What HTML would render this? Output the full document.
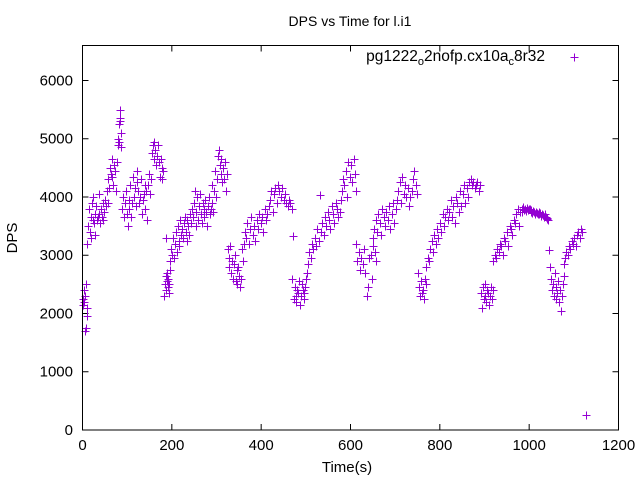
<!DOCTYPE html>
<html><head><meta charset="utf-8"><style>
html,body{margin:0;padding:0;background:#fff;}
svg{display:block;font-family:"Liberation Sans",sans-serif;}
</style></head><body>
<svg id="chart" width="640" height="480" viewBox="0 0 640 480" xmlns="http://www.w3.org/2000/svg">
<rect width="640" height="480" fill="#fff"/>
<text x="350" y="26" font-size="14" text-anchor="middle">DPS vs Time for l.i1</text>
<text x="17" y="238" font-size="15" text-anchor="middle" transform="rotate(-90 17 238)">DPS</text>
<text x="347" y="472" font-size="15" text-anchor="middle">Time(s)</text>
<g id="ticks"></g>
<g id="points"></g>
<rect x="82.5" y="45.5" width="536" height="384.5" fill="none" stroke="#000" stroke-width="1"/>
<g>
<text x="545" y="61" font-size="15.5" text-anchor="end">pg1222<tspan font-size="11" dy="4">o</tspan><tspan dy="-4">2nofp.cx10a</tspan><tspan font-size="11" dy="4">c</tspan><tspan dy="-4">8r32</tspan></text>
<path d="M570.5 57.5h8M574.5 53.5v8" stroke="#9400d3" stroke-width="1"/>
</g>
</svg>
<script>
const xTicks = [0,200,400,600,800,1000,1200];
const yTicks = [0,1000,2000,3000,4000,5000,6000];
const times = [1,2,3,4,5,6,7,8,9,10,
11,13,14,16,18,19,21,23,24,26,28,29,31,33,35,36,38,40,42,43,45,47,49,50,52,54,56,
57,59,61,63,65,67,69,71,73,75,77,79,80,81,82,83,84,85,86,87,
89,91,93,95,97,99,101,103,105,107,109,111,113,115,117,119,121,123,125,127,129,131,133,135,137,139,141,143,145,147,149,151,153,
155,157,159,161,163,165,167,169,171,173,175,177,179,181,
183,185,186,187,188,189,190,191,192,193,194,196,
197,199,201,203,205,207,209,211,213,215,217,219,221,223,225,227,229,231,233,235,237,239,241,243,
245,247,249,251,253,255,257,259,261,263,265,267,269,271,273,275,277,279,281,283,285,287,289,291,293,295,297,299,301,303,
305,307,309,311,313,315,317,319,321,323,
325,327,329,331,333,335,337,339,341,343,345,347,349,351,353,355,357,359,361,
363,366,369,372,375,378,381,384,387,390,393,396,399,402,405,408,411,414,417,420,423,426,429,432,435,438,441,444,447,450,453,456,459,462,465,468,
471,
470,473,475,477,479,481,483,485,487,489,491,493,495,497,499,501,503,
505,508,511,514,517,520,523,526,529,531,534,537,540,543,546,549,552,555,558,561,564,567,570,573,576,579,
580,583,586,589,592,595,598,601,604,607,610,613,
612,615,618,621,624,627,630,633,636,639,642,645,648,651,654,657,
650,653,656,659,662,665,668,671,674,677,680,683,686,689,692,695,698,701,
704,707,710,713,716,719,722,725,728,731,734,737,740,743,746,749,
752,754,756,758,760,762,764,766,768,
770,773,776,779,782,785,788,791,794,797,800,803,806,809,812,815,818,821,824,827,830,833,836,839,842,845,848,851,854,857,860,863,866,869,872,875,878,881,884,887,890,
892,894,896,898,900,902,904,906,908,910,912,914,916,918,
920,923,926,929,932,935,938,941,944,947,950,953,956,959,962,965,968,971,974,977,980,
983,985,987,989,991,993,995,997,999,1001,1003,1005,1007,1009,1011,1013,1015,1017,1019,1021,1023,1025,1027,1029,1031,1033,1035,1037,1039,1041,1043,
1045,
1047,1049,1051,1053,1055,1057,1059,1061,1063,1065,1067,1069,1071,1073,1075,1077,1079,
1080,1083,1086,1089,1092,1095,1098,1101,1104,1107,1110,1113,1116,1119,
1128];
const dps = [2250,2150,2400,2200,1700,2300,1750,2500,1950,2100,
3200,3500,3800,3400,3650,3300,3900,3600,4000,3550,3700,3350,3850,3600,3650,4050,3700,3550,3800,3650,3900,3600,3750,3950,3850,4100,3900,
4300,4150,4500,4400,4650,4350,4200,4550,4450,4100,4600,4900,5000,4950,5250,5300,5350,5500,5100,4850,
3800,4000,3650,3900,4100,3700,3500,3950,3800,4200,3650,3900,4350,4000,4150,3850,4450,4250,4100,3900,4000,4300,3700,3950,4050,4200,3800,4100,3600,4200,4400,4050,4300,
4750,4900,4650,4950,4800,4550,4700,4900,4600,4350,4650,4500,4300,4450,
2300,2500,3300,2650,2400,2550,2700,2450,2600,2350,2500,2750,
2900,3100,3000,3300,2950,3200,3400,3050,3500,3250,3150,3600,3350,3450,3300,3550,3650,3400,3250,3600,3500,3350,3700,3550,
3800,3650,3900,4100,3500,3750,4000,3600,3850,4050,3700,3550,3900,3800,3650,3950,3750,3500,3850,4000,3700,3800,4200,3900,3750,4100,4450,4000,4300,4700,
4800,4550,4400,4650,4250,4500,4300,4600,4100,4400,
3100,2950,2800,3150,2700,2900,2600,2850,3000,2550,2750,2500,2800,2650,2450,2600,3100,2900,3200,
3400,3300,3550,3200,3450,3650,3350,3500,3250,3600,3450,3700,3550,3650,3400,3800,3600,3700,3850,3950,4100,3750,4050,4150,3900,4200,4100,4000,4150,3950,4050,3900,3850,3950,3900,3800,
3330,
2600,2250,2450,2300,2200,2400,2350,2550,2150,2300,2500,2400,2250,2350,2450,2600,2700,
2850,3050,2950,3200,3100,3300,3150,3450,3250,4030,3400,3550,3350,3650,3500,3750,3600,3450,3850,3700,3550,3900,3800,3650,3750,3950,
4100,4300,4200,4450,4000,4600,4350,4550,4250,4650,4400,4100,
3200,2900,3050,2750,2950,2850,3100,2700,2300,2450,2950,3000,2600,3150,3050,2900,
3300,3450,3600,3400,3700,3550,3350,3800,3650,3500,3750,3600,3850,3450,3700,3900,3550,3800,
3950,4100,4250,3900,4350,4050,4200,4000,4150,3850,4000,4100,4300,4450,4200,4050,
2700,2450,2300,2550,2350,2400,2250,2600,2500,
2800,2950,2900,3100,3250,3050,3350,3200,3450,3300,3550,3400,3700,3500,3650,3800,3600,3750,3950,3650,3850,3550,4000,3900,3750,4100,3850,4050,4200,3900,4150,4000,4250,4300,4200,4250,4150,4200,4250,4100,4200,
2350,2100,2450,2250,2300,2500,2200,2400,2350,2150,2300,2450,2250,2400,
2900,3000,2950,3100,3050,3200,3150,3000,3300,3250,3400,3150,3500,3450,3350,3600,3550,3700,3800,3500,3750,
3800,3750,3820,3780,3800,3760,3810,3770,3790,3800,3750,3780,3720,3760,3740,3700,3750,3730,3710,3740,3700,3720,3680,3700,3690,3660,3700,3650,3620,3640,3600,
3090,
2800,2600,2400,2500,2300,2700,2250,2450,2350,2550,2200,2400,2050,2300,2500,2650,2850,
2950,3050,3000,3150,3100,3250,3200,3300,3150,3350,3400,3300,3450,3400,
250];

const NS = "http://www.w3.org/2000/svg";
const X0 = 82.5, X1 = 618.5, Y0 = 430, Y1 = 45.5;
const XMAX = 1200, YMAX = 6600;
function xs(t){ return X0 + (t / XMAX) * (X1 - X0); }
function ys(v){ return Y0 - (v / YMAX) * (Y0 - Y1); }

const tg = document.getElementById('ticks');
xTicks.forEach(function(t){
  const x = xs(t);
  const l1 = document.createElementNS(NS,'path');
  l1.setAttribute('d','M'+x+' '+Y0+'v-6M'+x+' '+Y1+'v6');
  l1.setAttribute('stroke','#000');
  
  
  tg.appendChild(l1);
  const tx = document.createElementNS(NS,'text');
  tx.setAttribute('x', x); tx.setAttribute('y', 450);
  tx.setAttribute('font-size','15'); tx.setAttribute('text-anchor','middle');
  tx.textContent = t;
  
  
  tg.appendChild(tx);
});
yTicks.forEach(function(v){
  const y = ys(v);
  const l1 = document.createElementNS(NS,'path');
  l1.setAttribute('d','M'+X0+' '+y+'h6M'+X1+' '+y+'h-6');
  l1.setAttribute('stroke','#000');
  
  
  tg.appendChild(l1);
  const tx = document.createElementNS(NS,'text');
  tx.setAttribute('x', 73); tx.setAttribute('y', y + 5);
  tx.setAttribute('font-size','15'); tx.setAttribute('text-anchor','end');
  tx.textContent = v;
  
  
  tg.appendChild(tx);
});

const pg = document.getElementById('points');
const n = Math.min(times.length, dps.length);
let d = '';
for (let i = 0; i < n; i++) {
  const x = Math.round(xs(times[i])) + 0.5, y = Math.round(ys(dps[i])) + 0.5;
  d += 'M' + (x - 4) + ' ' + y + 'h8M' + x + ' ' + (y - 4) + 'v8';
}
const p = document.createElementNS(NS,'path');
p.setAttribute('d', d);
p.setAttribute('stroke', '#9400d3');
p.setAttribute('stroke-width', '1');
p.setAttribute('fill', 'none');


pg.appendChild(p);
</script>
</body></html>
